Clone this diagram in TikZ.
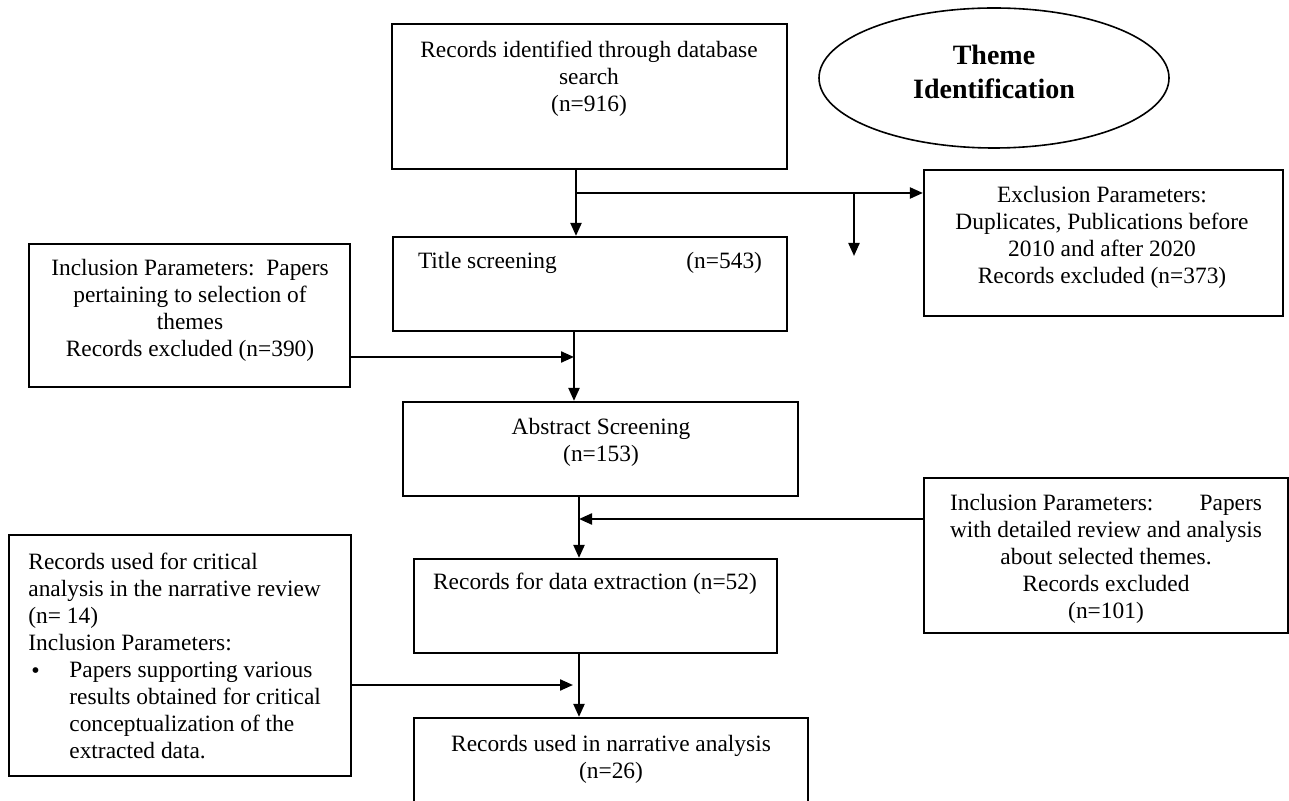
\documentclass[tikz,border=0pt]{standalone}
\usepackage{fontspec}
\setmainfont{Liberation Serif}
\usepackage{tikz}
\usetikzlibrary{shapes,positioning}
\usetikzlibrary{calc}
\usetikzlibrary{arrows.meta}
\tikzset{
	boite/.style={draw,line width=1.1pt,inner sep=0pt},
	texte/.style={inner sep=0pt,align=center,font=\fontsize{11.7}{13.5}\selectfont},
	titre/.style={inner sep=0pt,align=center,font=\fontsize{14}{17}\selectfont\bfseries},
	fl/.style={line width=1.1pt,-{Triangle[length=6.5pt,width=5.5pt]}}
}

\begin{document}
\begin{tikzpicture}[x=0.5pt,y=-0.5pt]
\useasboundingbox (0,0) rectangle (1289,801);
\clip (0,0) rectangle (1289,801); % coupe la derniere boite

%Boites
\node[boite,minimum width=197.5pt,minimum height=72.5pt] (ident) at (589.5,96.5) {};
\node[draw,ellipse,line width=0.8pt,minimum width=175pt,minimum height=70pt] (theme) at (994,78) {};
\node[boite,minimum width=197pt,minimum height=47pt] (title) at (590,284) {};
\node[boite,minimum width=179.5pt,minimum height=73pt] (excl) at (1103.5,243) {};
\node[boite,minimum width=160.5pt,minimum height=71.5pt] (inclL) at (189.5,315.5) {};
\node[boite,minimum width=197.5pt,minimum height=47pt] (abstr) at (600.5,449) {};
\node[boite,minimum width=182pt,minimum height=77.5pt] (inclR) at (1106,555.5) {};
\node[boite,minimum width=181.5pt,minimum height=47pt] (data) at (595.5,606) {};
\node[boite,minimum width=171pt,minimum height=120.5pt] (crit) at (180,655.5) {};
\node[boite,minimum width=197pt,minimum height=56pt] (narr) at (611,774) {};

%Textes
\node[titre] (themetxt) at (994,72) {Theme\\Identification};
\node[texte] (identtxt) at (589,79) {Records identified through database\\search\\(n=916)};
\node[texte] (titletxt) at (590,263) {\makebox[172pt]{Title screening\hfill(n=543)}};
\node[texte] (excltxt) at (1102,237) {Exclusion Parameters:\\Duplicates, Publications before\\2010 and after 2020\\Records excluded (n=373)};
\node[texte] (inclLtxt) at (190,310) {Inclusion Parameters:\ \ Papers\\pertaining to selection of\\themes\\Records excluded (n=390)};
\node[texte] (abstrtxt) at (601,442) {Abstract Screening\\(n=153)};
\node[texte] (inclRtxt) at (1106,559) {\makebox[156pt]{Inclusion Parameters:\hfill Papers}\\with detailed review and analysis\\about selected themes.\\Records excluded\\(n=101)};
\node[texte] (datatxt) at (595,584) {Records for data extraction (n=52)};
\node[texte,align=left,anchor=west] (crittxt) at (28,656) {Records used for critical\\analysis in the narrative review\\(n= 14)\\Inclusion Parameters:\\\makebox[20.5pt][l]{\hspace{1.5pt}\raisebox{-0.5pt}{\large\textbullet}}Papers supporting various\\\hspace*{20.5pt}results obtained for critical\\\hspace*{20.5pt}conceptualization of the\\\hspace*{20.5pt}extracted data.};
\node[texte] (narrtxt) at (611,759) {Records used in narrative analysis\\(n=26)};

%Jonctions
\coordinate (s1) at (576,193);
\coordinate (s2) at (854,193);
\coordinate (s3) at (854,256);
\coordinate (j1) at (574,357);
\coordinate (j2) at (579,519);
\coordinate (j3) at (573,685);

%Fleches
\draw[fl] (ident.south -| s1) -- (title.north -| s1);
\draw[fl] (s1) -- (excl.west |- s1);
\draw[fl] (s2) -- (s3);
\draw[fl] (title.south -| j1) -- (abstr.north -| j1);
\draw[fl] (inclL.east |- j1) -- (j1);
\draw[fl] (abstr.south -| j2) -- (data.north -| j2);
\draw[fl] (inclR.west |- j2) -- (j2);
\draw[fl] (data.south -| j2) -- (narr.north -| j2);
\draw[fl] (crit.east |- j3) -- (j3);

\end{tikzpicture}
\end{document}
